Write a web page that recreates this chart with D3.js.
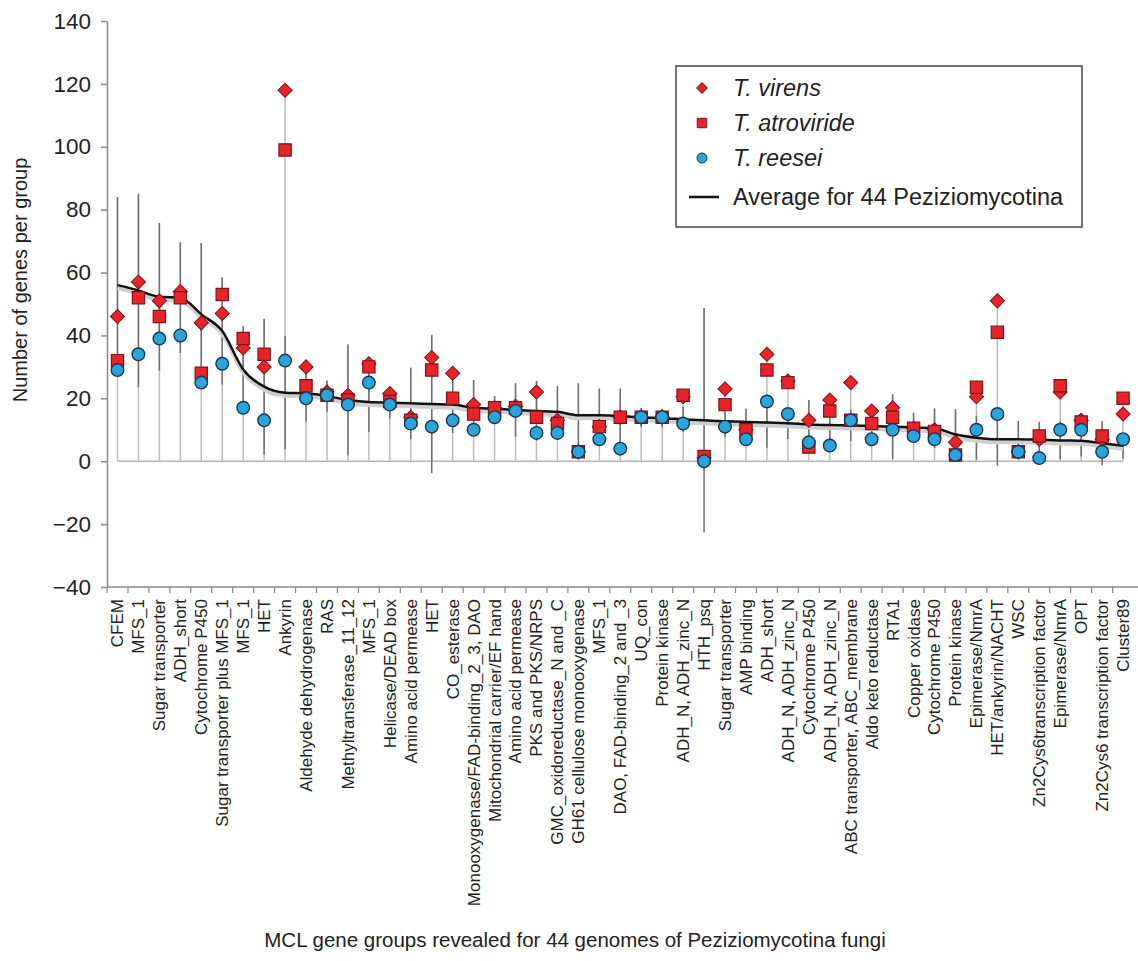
<!DOCTYPE html>
<html>
<head>
<meta charset="utf-8">
<script src="https://cdn.jsdelivr.net/npm/d3@7"></script>
<style>
  body { margin: 0; background: #fff; }
  text { font-family: "Liberation Sans", Arial, sans-serif; fill: #222; }
</style>
</head>
<body>
<div id="chart"></div>
<script>
var categories = ["CFEM", "MFS_1", "Sugar transporter", "ADH_short", "Cytochrome P450",
  "Sugar transporter plus MFS_1", "MFS_1", "HET", "Ankyrin", "Aldehyde dehydrogenase",
  "RAS", "Methyltransferase_11_12", "MFS_1", "Helicase/DEAD box", "Amino acid permease",
  "HET", "CO_esterase", "Monooxygenase/FAD-binding_2_3, DAO", "Mitochondrial carrier/EF hand",
  "Amino acid permease", "PKS and PKS/NRPS", "GMC_oxidoreductase_N and _C",
  "GH61 cellulose monooxygenase", "MFS_1", "DAO, FAD-binding_2 and _3", "UQ_con",
  "Protein kinase", "ADH_N, ADH_zinc_N", "HTH_psq", "Sugar transporter", "AMP binding",
  "ADH_short", "ADH_N, ADH_zinc_N", "Cytochrome P450", "ADH_N, ADH_zinc_N",
  "ABC transporter, ABC_membrane", "Aldo keto reductase", "RTA1", "Copper oxidase",
  "Cytochrome P450", "Protein kinase", "Epimerase/NmrA", "HET/ankyrin/NACHT", "WSC",
  "Zn2Cys6transcription factor", "Epimerase/NmrA", "OPT", "Zn2Cys6 transcription factor",
  "Cluster89"];

var virens = [46, 57, 51, 54, 44, 47, 36, 30, 118, 30, 22, 21, 31, 21.5, 14, 33, 28, 18, 17,
  17.5, 22, 13, 3, 11, 14, 14, 14, 20.5, 1, 23, 10, 34, 25.5, 13, 19.5, 25, 16, 17, 10.5,
  10, 6, 20.5, 51, 3, 7, 22, 13, 7, 15];
var atroviride = [32, 52, 46, 52, 28, 53, 39, 34, 99, 24, 21, 19.5, 30, 19, 13, 29, 20, 15,
  17, 17, 14, 12, 3, 11, 14, 14, 14, 21, 1.5, 18, 10, 29, 25, 4.5, 16, 13, 12, 14, 10.5,
  9.5, 2, 23.5, 41, 3, 8, 24, 12.5, 8, 20];
var reesei = [29, 34, 39, 40, 25, 31, 17, 13, 32, 20, 21, 18, 25, 18, 12, 11, 13, 10, 14,
  16, 9, 9, 3, 7, 4, 14, 14, 12, 0, 11, 7, 19, 15, 6, 5, 13, 7, 10, 8, 7, 2, 10, 15, 3, 1,
  10, 10, 3, 7];
var average = [56, 54.3, 52.3, 52, 46.7, 41.4, 29.2, 23.7, 21.8, 21.6, 20.7, 19.5, 18.8,
  18.6, 18.4, 18.2, 18, 17, 16.7, 16.3, 16, 15.7, 14.6, 14.6, 14.4, 13.9, 13.7, 13.3, 13,
  12.7, 12.5, 12.3, 12.1, 11.7, 11.5, 11.4, 11.2, 11, 10.7, 10.5, 8.5, 7.5, 7, 7, 6.8, 6.6,
  6.5, 5.7, 4.9];
var sd = [28, 30.8, 23.5, 17.6, 22.7, 17, 13.8, 21.6, 18, 9, 5, 17.6, 9.5, 5, 11.3, 22, 9,
  8.8, 4, 8.5, 9.5, 8.2, 10.2, 8.5, 8.7, 3, 3, 4, 35.7, 5, 4.2, 8, 5, 7.8, 8, 5, 6, 10.3,
  4.7, 6.3, 8, 7, 8.5, 5.8, 5.7, 6, 5, 7, 4];
var yTicks = [-40, -20, 0, 20, 40, 60, 80, 100, 120, 140];
var legendItems = ["T. virens", "T. atroviride", "T. reesei", "Average for 44 Peziziomycotina"];

var totalWidth = 1138, totalHeight = 961;
var margin = {left: 107, top: 21};
var red = "#e8232a", redStroke = "#7d1416", blue = "#2aa5dc", blueStroke = "#1a3452";

var svg = d3.select("#chart").append("svg")
    .attr("width", totalWidth)
    .attr("height", totalHeight);

var idx = d3.range(categories.length);
var x = d3.scaleBand()
    .domain(idx)
    .range([margin.left, margin.left + 20.95 * categories.length]);
var y = d3.scaleLinear()
    .domain([-40, 140])
    .range([587, margin.top]);
var cx = function(i) { return x(i) + x.bandwidth() / 2; };

// zero line
svg.append("line")
    .attr("x1", cx(0)).attr("x2", cx(categories.length - 1))
    .attr("y1", y(0)).attr("y2", y(0))
    .attr("stroke", "#b5b5b5").attr("stroke-width", 1.5);

// light stems from zero up to the highest value
svg.append("g").selectAll("line")
    .data(idx).enter().append("line")
    .attr("x1", cx).attr("x2", cx)
    .attr("y1", y(0))
    .attr("y2", function(i) { return y(Math.max(virens[i], atroviride[i], reesei[i], average[i] + sd[i])); })
    .attr("stroke", "#bdbdbd").attr("stroke-width", 1.5);

// error bars around the average
svg.append("g").selectAll("line")
    .data(idx).enter().append("line")
    .attr("x1", cx).attr("x2", cx)
    .attr("y1", function(i) { return y(average[i] - sd[i]); })
    .attr("y2", function(i) { return y(average[i] + sd[i]); })
    .attr("stroke", "#6e6e6e").attr("stroke-width", 1.5);

// average line with soft shadow
var avgLine = d3.line()
    .x(function(i) { return cx(i); })
    .y(function(i) { return y(average[i]); })
    .curve(d3.curveMonotoneX);
svg.append("path")
    .attr("d", avgLine(idx))
    .attr("transform", "translate(0,3)")
    .attr("fill", "none").attr("stroke", "#cfcfcf").attr("stroke-width", 4);
svg.append("path")
    .attr("d", avgLine(idx))
    .attr("fill", "none").attr("stroke", "#111").attr("stroke-width", 2.5);

var diamond = d3.symbol().type(d3.symbolSquare).size(100);
var square = d3.symbol().type(d3.symbolSquare).size(150);

svg.append("g").selectAll("path")
    .data(idx).enter().append("path")
    .attr("d", diamond)
    .attr("transform", function(i) { return "translate(" + cx(i) + "," + y(virens[i]) + ") rotate(45)"; })
    .attr("fill", red).attr("stroke", redStroke).attr("stroke-width", 1);

svg.append("g").selectAll("path")
    .data(idx).enter().append("path")
    .attr("d", square)
    .attr("transform", function(i) { return "translate(" + cx(i) + "," + y(atroviride[i]) + ")"; })
    .attr("fill", red).attr("stroke", redStroke).attr("stroke-width", 1.2);

svg.append("g").selectAll("circle")
    .data(idx).enter().append("circle")
    .attr("cx", cx)
    .attr("cy", function(i) { return y(reesei[i]); })
    .attr("r", 6.3)
    .attr("fill", blue).attr("stroke", blueStroke).attr("stroke-width", 1.4);

// y axis
var yAxis = svg.append("g")
    .attr("transform", "translate(" + margin.left + ",0)")
    .call(d3.axisLeft(y).tickValues(yTicks).tickSize(6).tickPadding(10).tickSizeOuter(0));
yAxis.select(".domain").attr("stroke", "#888").attr("stroke-width", 1.5);
yAxis.selectAll(".tick line").attr("stroke", "#888").attr("stroke-width", 1.5);
yAxis.selectAll("text").style("font-size", "22.5px").style("fill", "#222");

// x axis: labels at centres, ticks at band edges
var xAxis = svg.append("g")
    .attr("transform", "translate(0," + y(-40) + ")")
    .call(d3.axisBottom(x).tickSize(0).tickSizeOuter(0)
        .tickFormat(function(i) { return categories[i]; }));
xAxis.select(".domain").attr("stroke", "#888").attr("stroke-width", 1.5)
    .attr("d", "M" + margin.left + ",0H" + totalWidth);
xAxis.selectAll("text")
    .attr("transform", "rotate(-90)")
    .attr("x", -12).attr("y", 0).attr("dy", "0.35em")
    .style("text-anchor", "end")
    .style("font-size", "17px").style("fill", "#222");
svg.append("g").selectAll("line")
    .data(idx).enter().append("line")
    .attr("x1", function(i) { return x(i); }).attr("x2", function(i) { return x(i); })
    .attr("y1", y(-40)).attr("y2", y(-40) + 6)
    .attr("stroke", "#888").attr("stroke-width", 1.2);

// axis titles
svg.append("text")
    .attr("transform", "translate(27,280) rotate(-90)")
    .attr("text-anchor", "middle")
    .style("font-size", "20px")
    .text("Number of genes per group");
svg.append("text")
    .attr("x", 575).attr("y", 947)
    .attr("text-anchor", "middle")
    .style("font-size", "20.5px")
    .text("MCL gene groups revealed for 44 genomes of Peziziomycotina fungi");

// legend
var legend = svg.append("g").attr("transform", "translate(676,66)");
legend.append("rect")
    .attr("width", 406).attr("height", 161)
    .attr("fill", "#fff").attr("stroke", "#444").attr("stroke-width", 1.5);
var ly = [22, 57, 92, 131];
legend.append("path").attr("d", d3.symbol().type(d3.symbolSquare).size(55))
    .attr("transform", "translate(26," + ly[0] + ") rotate(45)")
    .attr("fill", red).attr("stroke", redStroke);
legend.append("path").attr("d", d3.symbol().type(d3.symbolSquare).size(90))
    .attr("transform", "translate(26," + ly[1] + ")")
    .attr("fill", red).attr("stroke", redStroke);
legend.append("circle").attr("cx", 26).attr("cy", ly[2]).attr("r", 5)
    .attr("fill", blue).attr("stroke", blueStroke);
legend.append("line").attr("x1", 13).attr("x2", 43).attr("y1", ly[3]).attr("y2", ly[3])
    .attr("stroke", "#111").attr("stroke-width", 2.5);
legend.selectAll("text.item")
    .data(legendItems).enter().append("text")
    .attr("class", "item")
    .attr("x", 57)
    .attr("y", function(d, i) { return ly[i]; })
    .attr("dy", "0.35em")
    .style("font-size", "23.5px")
    .style("font-style", function(d, i) { return i < 3 ? "italic" : "normal"; })
    .text(function(d) { return d; });
</script>
</body>
</html>
